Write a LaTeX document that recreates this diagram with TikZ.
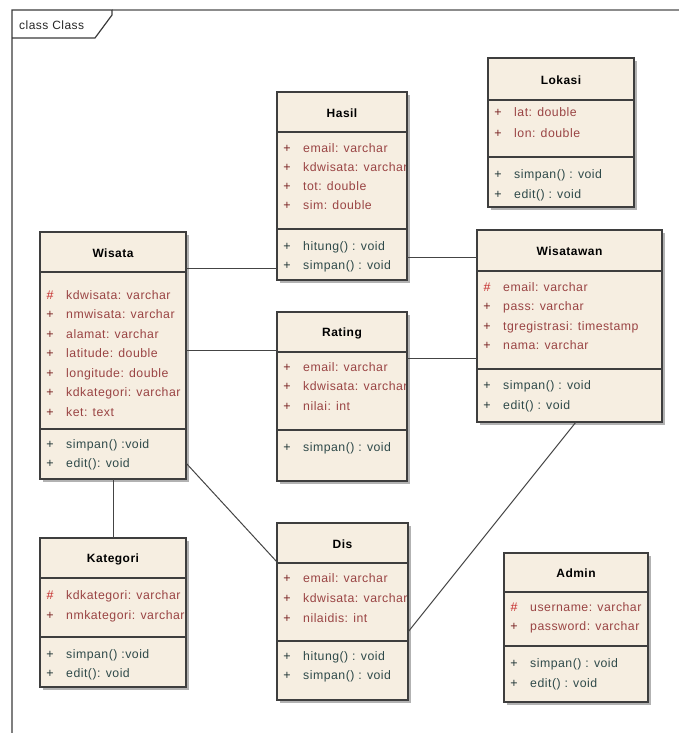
\documentclass[tikz,border=0pt]{standalone}
\usepackage{fontspec}
\setmainfont{Liberation Sans}
\newfontfamily\eafont[LetterSpace=4]{Liberation Sans}
\definecolor{boxfillc}{HTML}{F6EEE1}
\definecolor{boxline}{HTML}{3E3E3E}
\definecolor{attrc}{HTML}{9A4444}
\definecolor{attrsym}{HTML}{7A2424}
\definecolor{keysym}{HTML}{C42A2A}
\definecolor{methc}{HTML}{2F4A4A}
\definecolor{methsym}{HTML}{213636}
\definecolor{framegray}{HTML}{8C8C8C}
\definecolor{framedark}{HTML}{3A3A3A}
\definecolor{connc}{HTML}{444444}
\tikzset{
  classbody/.style={rectangle, fill=boxfillc, draw=none, inner sep=0pt, outer sep=0pt},
  shadowfill/.style={fill=black!30},
  classline/.style={draw=boxline, line width=1.4pt},
  classtitle/.style={inner sep=0pt, font=\eafont\bfseries\fontsize{12}{14}\selectfont, text=black},
  symnode/.style={inner sep=0pt, anchor=center, xshift=10pt, font=\eafont\fontsize{12.5}{14}\selectfont, text height=8.5pt, text depth=2.5pt},
  rownode/.style={inner sep=0pt, anchor=west, xshift=26pt, font=\eafont\fontsize{12.3}{14}\selectfont, text height=8.5pt, text depth=2.5pt},
  syma/.style={text=attrsym}, symk/.style={text=keysym}, symm/.style={text=methsym},
  txta/.style={text=attrc}, txtk/.style={text=attrc}, txtm/.style={text=methc},
  conn/.style={draw=connc, line width=1pt},
  frametitle/.style={inner sep=0pt, anchor=west, font=\eafont\fontsize{12}{14}\selectfont, text=black!85}
}
% #1 name, #2 x1, #3 y1, #4 x2, #5 y2, #6 header y, #7 title
\newcommand{\umlclass}[7]{%
  \fill[shadowfill] ({#2+3},{#3+3}) rectangle ({#4+3},{#5+3});
  \node[classbody, minimum width={(#4)-(#2)}, minimum height={(#5)-(#3)}] (#1) at ({((#2)+(#4))/2},{((#3)+(#5))/2}) {};
  \node[classtitle] (#1-title) at ({((#2)+(#4))/2},{((#3)+(#6))/2+1}) {#7};
}
% #1 name, #2 header y, #3 divider y
\newcommand{\umlborder}[3]{%
  \draw[classline] (#1.north west) rectangle (#1.south east);
  \draw[classline] (#1.west |- 0,#2) -- (#1.east |- 0,#2);
  \draw[classline] (#1.west |- 0,#3) -- (#1.east |- 0,#3);
}
% #1 class, #2 id, #3 y, #4 symbol, #5 kind, #6 text
\newcommand{\urow}[6]{%
  \node[symnode, sym#5] (#1-#2s) at (#1.west |- 0,#3) {#4};
  \node[rownode, txt#5] (#1-#2) at (#1.west |- 0,#3) {#6};
}
\newcommand{\clipto}[1]{\clip (#1.north west) rectangle (#1.south east);}
\begin{document}
\begin{tikzpicture}[x=1pt,y=-1pt]
\useasboundingbox (0,0) rectangle (679,733);

% frame
\draw[draw=framegray, line width=1.6pt] (112,10) -- (679,10);
\draw[draw=framedark, line width=1.2pt] (12,733) -- (12,10) -- (112,10) -- (112,15) -- (95,38) -- (12,38);
\node[frametitle] (frame-title) at (19,25) {class Class};

% ---------- Lokasi
\umlclass{lokasi}{488}{58}{634}{207}{100}{Lokasi}
\begin{scope}\clipto{lokasi}
\urow{lokasi}{a1}{114}{+}{a}{lat: double}
\urow{lokasi}{a2}{135}{+}{a}{lon: double}
\urow{lokasi}{m1}{175}{+}{m}{simpan() : void}
\urow{lokasi}{m2}{195}{+}{m}{edit() : void}
\end{scope}
\umlborder{lokasi}{100}{157}

% ---------- Hasil
\umlclass{hasil}{277}{92}{407}{280}{132}{Hasil}
\begin{scope}\clipto{hasil}
\urow{hasil}{a1}{149}{+}{a}{email: varchar}
\urow{hasil}{a2}{168}{+}{a}{kdwisata: varchar}
\urow{hasil}{a3}{187}{+}{a}{tot: double}
\urow{hasil}{a4}{206}{+}{a}{sim: double}
\urow{hasil}{m1}{247}{+}{m}{hitung() : void}
\urow{hasil}{m2}{266}{+}{m}{simpan() : void}
\end{scope}
\umlborder{hasil}{132}{229}

% ---------- Wisata
\umlclass{wisata}{40}{232}{186}{479}{272}{Wisata}
\begin{scope}\clipto{wisata}
\urow{wisata}{a1}{296}{\#}{k}{kdwisata: varchar}
\urow{wisata}{a2}{315.5}{+}{a}{nmwisata: varchar}
\urow{wisata}{a3}{335}{+}{a}{alamat: varchar}
\urow{wisata}{a4}{354.5}{+}{a}{latitude: double}
\urow{wisata}{a5}{374}{+}{a}{longitude: double}
\urow{wisata}{a6}{393.5}{+}{a}{kdkategori: varchar}
\urow{wisata}{a7}{413}{+}{a}{ket: text}
\urow{wisata}{m1}{445}{+}{m}{simpan() :void}
\urow{wisata}{m2}{464}{+}{m}{edit(): void}
\end{scope}
\umlborder{wisata}{272}{429}

% ---------- Wisatawan
\umlclass{wisatawan}{477}{230}{662}{422}{271}{Wisatawan}
\begin{scope}\clipto{wisatawan}
\urow{wisatawan}{a1}{288}{\#}{k}{email: varchar}
\urow{wisatawan}{a2}{307}{+}{a}{pass: varchar}
\urow{wisatawan}{a3}{327}{+}{a}{tgregistrasi: timestamp}
\urow{wisatawan}{a4}{346}{+}{a}{nama: varchar}
\urow{wisatawan}{m1}{386}{+}{m}{simpan() : void}
\urow{wisatawan}{m2}{406}{+}{m}{edit() : void}
\end{scope}
\umlborder{wisatawan}{271}{369}

% ---------- Rating
\umlclass{rating}{277}{312}{407}{481}{352}{Rating}
\begin{scope}\clipto{rating}
\urow{rating}{a1}{368}{+}{a}{email: varchar}
\urow{rating}{a2}{387}{+}{a}{kdwisata: varchar}
\urow{rating}{a3}{407}{+}{a}{nilai: int}
\urow{rating}{m1}{448}{+}{m}{simpan() : void}
\end{scope}
\umlborder{rating}{352}{430}

% ---------- Kategori
\umlclass{kategori}{40}{538}{186}{687}{578}{Kategori}
\begin{scope}\clipto{kategori}
\urow{kategori}{a1}{596}{\#}{k}{kdkategori: varchar}
\urow{kategori}{a2}{616}{+}{a}{nmkategori: varchar}
\urow{kategori}{m1}{655}{+}{m}{simpan() :void}
\urow{kategori}{m2}{674}{+}{m}{edit(): void}
\end{scope}
\umlborder{kategori}{578}{637}

% ---------- Dis
\umlclass{dis}{277}{523}{408}{700}{563}{Dis}
\begin{scope}\clipto{dis}
\urow{dis}{a1}{579}{+}{a}{email: varchar}
\urow{dis}{a2}{599}{+}{a}{kdwisata: varchar}
\urow{dis}{a3}{619}{+}{a}{nilaidis: int}
\urow{dis}{m1}{657}{+}{m}{hitung() : void}
\urow{dis}{m2}{676}{+}{m}{simpan() : void}
\end{scope}
\umlborder{dis}{563}{641}

% ---------- Admin
\umlclass{admin}{504}{553}{648}{702}{592}{Admin}
\begin{scope}\clipto{admin}
\urow{admin}{a1}{608}{\#}{k}{username: varchar}
\urow{admin}{a2}{627}{+}{a}{password: varchar}
\urow{admin}{m1}{664}{+}{m}{simpan() : void}
\urow{admin}{m2}{684}{+}{m}{edit() : void}
\end{scope}
\umlborder{admin}{592}{646}

% ---------- connectors
\draw[conn] (wisata.east |- 0,268) -- (hasil.west |- 0,268);
\draw[conn] (hasil.east |- 0,257) -- (wisatawan.west |- 0,257);
\draw[conn] (wisata.east |- 0,350) -- (rating.west |- 0,350);
\draw[conn] (rating.east |- 0,358) -- (wisatawan.west |- 0,358);
\draw[conn] (wisata.south) -- (kategori.north);
\draw[conn] (wisata.east |- 0,463) -- (dis.west |- 0,562);
\draw[conn] (wisatawan.south -| 576,0) -- (dis.east |- 0,632);
\end{tikzpicture}
\end{document}
